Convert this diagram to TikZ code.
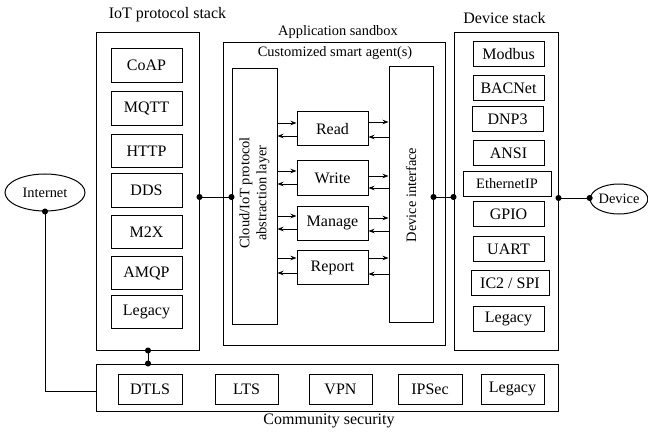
\documentclass[tikz,border=0pt]{standalone}
\usepackage{fontspec}
\setmainfont{Liberation Serif}
\usetikzlibrary{arrows.meta,shapes.geometric}
\begin{document}
\begin{tikzpicture}[x=1pt,y=-1pt,
  frame/.style={draw, line width=1pt, inner sep=0pt},
  cell/.style={draw, line width=1pt, inner sep=0pt, font=\fontsize{16}{18}\selectfont},
  small/.style={font=\fontsize{14.4}{17}\selectfont},
  big/.style={font=\fontsize{16}{18}\selectfont},
  oval/.style={draw, line width=1pt, ellipse, inner sep=0pt, font=\fontsize{14.4}{17}\selectfont},
  arr/.style={line width=0.8pt, -{Stealth[length=6pt,width=4.5pt]}},
  dots/.style={line width=1pt, {Circle[length=6pt]}-{Circle[length=6pt]}, shorten <=-3pt, shorten >=-3pt},
]
\useasboundingbox (0,0) rectangle (648,433);

% outer frames
\node[frame, minimum width=103, minimum height=317] (iot) at (147.5,191.5) {};
\node[frame, minimum width=104, minimum height=317] (dev) at (506,191.5) {};
\node[frame, minimum width=222, minimum height=302] (sand) at (334,194) {};
\node[frame, minimum width=462, minimum height=47] (comm) at (327,387.5) {};

% titles
\node[big] (t1) at (167.5,15) {IoT protocol stack};
\node[big] (t2) at (504.5,18) {Device stack};
\node[small] (t3) at (338,32) {Application sandbox};
\node[small] (t4) at (335,53) {Customized smart agent(s)};
\node[big] (t5) at (329,421) {Community security};

% IoT protocol stack
\foreach \n/\y/\t in {coap/65.5/CoAP, mqtt/108.5/MQTT, http/151/HTTP, dds/190.5/DDS, mtx/232/M2X, amqp/273/AMQP, leg1/312/Legacy}
  \node[cell, minimum width=71, minimum height=33.5] (\n) at (146.5,\y) {\t};

% Device stack
\foreach \n/\x/\y/\w/\t in {modbus/508.5/54.5/71/Modbus, bacnet/508.5/88.5/71/BACNet, dnp/507.5/119.5/71/DNP3, ansi/508.5/153/71/ANSI, gpio/508.5/214/71/GPIO, uart/508.5/249/71/UART, ic/510/283/78/{IC2 / SPI}, leg2/508.5/319/71/Legacy}
  \node[cell, minimum width=\w, minimum height=25] (\n) at (\x,\y) {\t};
\node[draw, line width=1pt, inner sep=0pt, small, minimum width=88, minimum height=24] (eth) at (507,184) {EthernetIP};

% Community security
\foreach \n/\x/\w/\t in {dtls/150/64/DTLS, lts/246.5/63/LTS, vpn/340.5/63/VPN, ipsec/430/64/IPSec, leg3/512.5/63/Legacy}
  \node[cell, minimum width=\w, minimum height=30] (\n) at (\x,389) {\t};

% sandbox contents
\node[frame, minimum width=45, minimum height=255] (layer) at (254.5,196.5) {};
\node[small, rotate=90, align=center] (layertxt) at (254.5,193) {Cloud/IoT protocol\\abstraction layer};
\node[frame, minimum width=44, minimum height=255] (devif) at (411,194.5) {};
\node[small, rotate=90] (deviftxt) at (411,195) {Device interface};

\foreach \n/\y/\t in {rd/129/Read, wr/178/Write, mg/223/Manage, rp/267.5/Report}
  \node[cell, minimum width=71, minimum height=34] (\n) at (332.5,\y) {\t};

\foreach \b/\lu/\ld/\ru/\rd in {rd/123/136/122/137, wr/171/184/176/188, mg/216/229/218/231, rp/258/273/258/274} {
  \draw[arr] (layer.east |- 0,\lu) -- (\b.west |- 0,\lu);
  \draw[arr] (\b.west |- 0,\ld) -- (layer.east |- 0,\ld);
  \draw[arr] (\b.east |- 0,\ru) -- (devif.west |- 0,\ru);
  \draw[arr] (devif.west |- 0,\rd) -- (\b.east |- 0,\rd);
}

% ellipses
\node[oval, minimum width=80, minimum height=37] (inet) at (45,192.5) {Internet};
\node[oval, minimum width=56, minimum height=30] (device) at (619,199) {Device};

% connectors
\draw[dots] (iot.east |- 0,197) -- (layer.west |- 0,197);
\draw[dots] (devif.east |- 0,197) -- (dev.west |- 0,197);
\draw[dots] (dev.east |- 0,198) -- (device.west |- 0,198);
\draw[dots] (iot.south -| 148,0) -- (comm.north -| 148,0);
\draw[line width=1pt, {Circle[length=6pt]}-, shorten <=-3pt] (inet.south) |- (comm.west |- 0,391);
\end{tikzpicture}
\end{document}
